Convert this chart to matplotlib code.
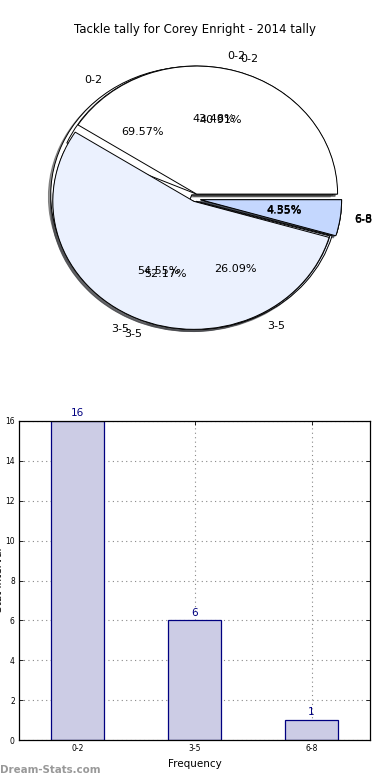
import matplotlib
matplotlib.use("Agg")
import matplotlib.pyplot as plt

# ---- data ----
categories = ["0-2", "3-5", "6-8"]
pie_a = [16, 6, 1]      # 69.57 / 26.09 / 4.35
pie_c = [10, 12, 1]     # 43.48 / 52.17 / 4.35
pie_b = [9, 12, 1]      # 40.91 / 54.55 / 4.55
bar_values = [16, 6, 1]
title = "Tackle tally for Corey Enright - 2014 tally"

pie_colors = ["#FFFFFF", "#EBF1FE", "#C4D7FE"]
explode = [0.04, 0.02, 0.04]

W, H = 390, 780
fig = plt.figure(figsize=(W / 100, H / 100), dpi=100)

# pie axes: center (195,199) px, rx=141, ry=128
cx, cy, rx, ry = 195, 199, 141, 128
axw, axh = 2.5 * rx, 2.5 * ry
ax1 = fig.add_axes([(cx - axw / 2) / W, 1 - (cy + axh / 2) / H, axw / W, axh / H])
for vals in (pie_a, pie_c, pie_b):
    ax1.pie(vals, labels=categories, colors=pie_colors, explode=explode,
            autopct="%1.2f%%", shadow={"ox": -0.012, "oy": -0.012, "alpha": 0.6},
            startangle=0,
            wedgeprops={"edgecolor": "black", "linewidth": 0.7},
            textprops={"fontsize": 8})
ax1.set_aspect("auto")
ax1.set_xlim(-1.25, 1.25)
ax1.set_ylim(-1.25, 1.25)
ax1.axis("off")

fig.text(195 / W, 1 - 30 / H, title, ha="center", va="center", fontsize=8.5)

# bar axes
ax2 = fig.add_axes([19 / W, 1 - 740 / H, 351 / W, 319 / H])
x = range(len(categories))
bars = ax2.bar(x, bar_values, width=0.45, color="#CCCCE5", edgecolor="#000080",
               linewidth=0.9, zorder=2)
for xi, v in zip(x, bar_values):
    ax2.annotate(str(v), (xi, v), xytext=(0, 2), textcoords="offset points",
                 ha="center", va="bottom", color="#000080", fontsize=7.5)
ax2.set_xlim(-0.5, 2.5)
ax2.set_ylim(0, 16)
ax2.set_xticks(list(x))
ax2.set_xticklabels(categories)
ax2.set_yticks(range(0, 17, 2))
ax2.tick_params(direction="in", top=True, right=True, length=3, width=0.6,
                labelsize=5.5, pad=3)
ax2.grid(True, linestyle=(0, (1, 3)), color="#888888", linewidth=0.8, zorder=0)
ax2.set_axisbelow(True)
for s in ax2.spines.values():
    s.set_linewidth(0.9)
ax2.set_xlabel("Frequency", fontsize=7.5, labelpad=4)
fig.text(4 / W, 1 - 580 / H, "Stat Interval", rotation=90, ha="right", va="center",
         fontsize=7.5)

fig.text(0, 1 - 770 / H, "Dream-Stats.com", ha="left", va="center", fontsize=7.4,
         color="#999999", weight="bold")

fig.savefig("out.png", dpi=100)
